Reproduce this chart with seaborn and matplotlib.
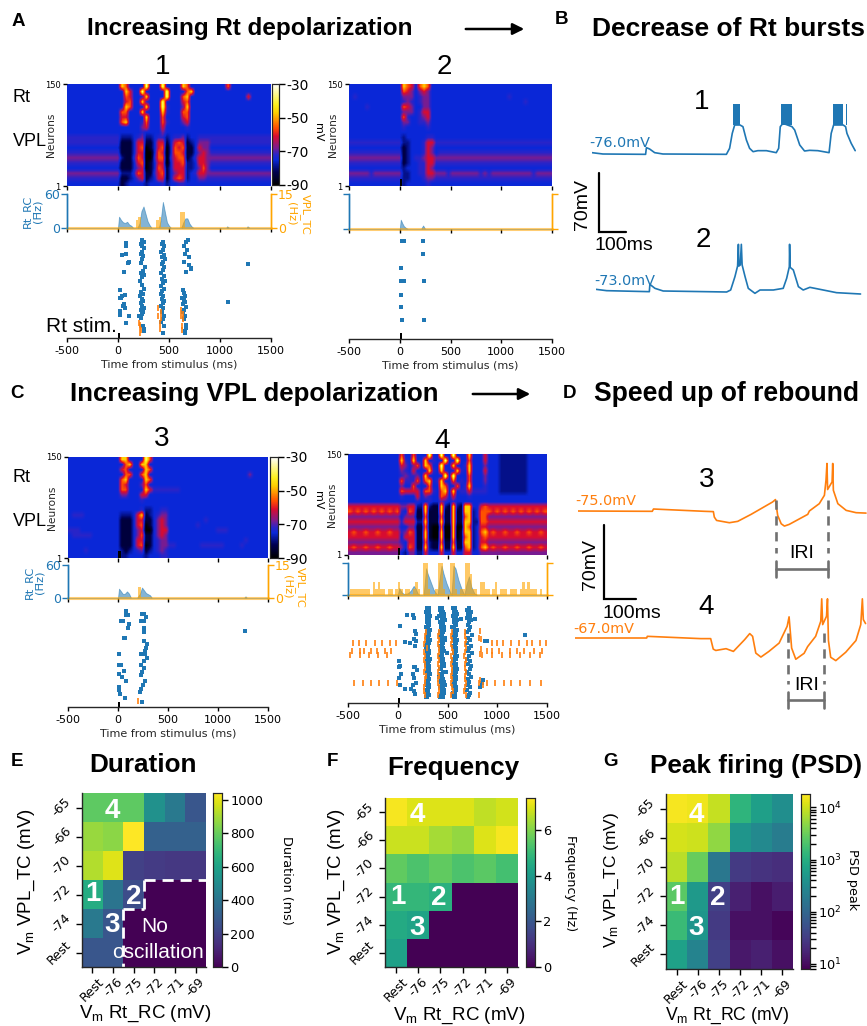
import numpy as np
import matplotlib
matplotlib.use('Agg')
import matplotlib.pyplot as plt
import seaborn as sns
from matplotlib.colors import LinearSegmentedColormap, LogNorm

W, H = 867, 1026
BLUE = '#1f77b4'
ORANGE = '#ff7f0e'
HIST_ORANGE = '#ffa500'

# neuron heatmaps: one digit per 40 ms bin, spaces only group the bursts
mv_levels = [-90, -84, -79, -75, -72, -68, -61, -56, -47, -36]

heat1 = [
    "3333333333333 873 33 39 333 93 333 873 3333333373333333333",
    "3333333333333 386 33 93 333 39 333 378 3333333333333333333",
    "3333333333333 376 33 48 333 39 333 783 3333333333333633333",
    "3333333333333 367 33 84 333 93 333 673 3333333333333333333",
    "3333333333333 387 33 38 333 94 333 583 3333333333333333333",
    "3333333333333 773 33 83 333 84 333 773 3333333333333333333",
    "3333333333333 663 33 38 333 73 333 673 3333333333333333333",
    "3333333333333 783 33 47 333 74 333 563 3333333333333333333",
    "3333333333333 333 33 56 333 63 333 343 3333333333333333333",
    "3333333333333 333 33 43 333 53 333 333 3333333333333333333",
    "4444444444444 222 3 45 22 3 44 2 3 445 23 3 444 444444444444444",
    "4444444444444 111 3 66 11 3 66 1 3 676 12 3 555 444444444444444",
    "3333333333333 111 3 67 01 3 67 0 3 767 11 3 655 333333333333333",
    "4444444444444 111 3 66 00 3 76 0 3 776 11 3 565 444444444444444",
    "5555555555555 211 4 76 00 4 77 0 4 677 12 4 665 555555555555555",
    "4444444444444 111 3 67 01 3 66 0 3 667 22 3 665 444444444444444",
    "3333333333333 111 3 56 01 3 76 1 3 666 22 3 575 333333333333333",
    "5555555555555 222 4 76 11 4 67 1 3 566 23 4 665 555555555555555",
    "4444444444444 112 3 56 12 3 66 1 3 676 23 3 554 444444444444444",
    "3333333333333 123 3 33 23 3 34 2 3 344 33 3 333 333333333333333",
]
heat2 = [
    "3333333333333 876 3 7873 33333333333333333333333333333",
    "3333333333333 765 3 5653 33333333333333333333333333333",
    "3433333333333 555 3 4553 33333333333333333343333333333",
    "3333333333333 454 3 4553 33333333333333333333334333333",
    "3333433333333 765 3 3553 33333333333333333333333333333",
    "3333333333333 555 3 4663 33333333333333333333333333333",
    "3333333333333 743 3 4563 33333333333333333333333333333",
    "3333333333333 553 3 4453 33333333333333333333333333333",
    "3333333333333 433 3 3343 33333333333333333333333333333",
    "3333333333333 333 3 3333 33333333333333333333333333333",
    "3333333333333 233 333 443 3333333333333333333333333333",
    "4444444444444 223 334 664 4444444444444444444444444444",
    "3333333333333 123 334 653 3333333333333333333333333333",
    "4444444444444 123 334 653 4444444444444444444444444444",
    "5555555555555 123 445 665 5555555555555555555555555555",
    "4444444444444 123 344 664 4444444444444444444444444444",
    "3333333333333 233 344 653 3333333333333333333333333333",
    "5555545555555 223 344 665 5545555555454555555555545555",
    "4444444444444 223 334 554 4444444444444444444444444444",
    "3333333333333 233 333 433 3333333333333333333333333333",
]
heat3 = [
    "3333333333333 883 33 397 33333333333333333333333333333",
    "3333333333333 378 33 883 33333333333333333333333333333",
    "3333333333333 673 33 387 33333333333333333333333333333",
    "3333333333333 377 33 783 33333333333333333333333353333",
    "3333333333333 783 33 387 33333333333333333333333333333",
    "3333333333333 763 33 573 33333333333333333333333333333",
    "3333333333333 773 33 386 44444443333333333333333333333",
    "3333333333333 553 33 663 33333333333333333333333333333",
    "3333333333333 333 33 433 33333333333333333333333333333",
    "3333333333333 333 33 333 33333333333333333333333333333",
    "3333333333333 333 3 34 22 3 344 3333333333333333333333333",
    "3444333333333 222 3 68 12 3 455 3333333333333333333333333",
    "3333333333333 111 3 66 11 3 565 3333333334333333333333333",
    "3333333333333 111 3 67 01 3 565 3333333433333333333333333",
    "4443333333333 111 3 56 00 3 566 3333333333334443333333333",
    "3444443333333 111 3 57 11 3 565 3333333333333333333333333",
    "3333333333333 111 3 66 11 3 455 3333333333333333333433333",
    "3333333333333 111 3 67 01 3 455 4433333344444433334333333",
    "3333433333333 212 3 45 12 3 454 3333333333333333333333333",
    "3333333333333 223 3 33 23 3 344 3333333333333333333333333",
]
heat4 = [
    "3333333333333 7 33 73 3 39 33 93 3 93 33 8 333 6 333 2222222 33333",
    "3333333333333 8 43 83 3 83 43 39 3 39 33 7 333 6 333 2222222 33333",
    "3333333333333 6 53 57 3 87 33 93 3 83 34 8 333 5 333 2222222 33333",
    "3333333333333 5 43 63 3 38 43 84 3 38 43 8 333 6 333 2222222 33333",
    "3333333333333 4 54 45 3 83 33 39 3 93 33 7 333 5 333 2222222 33333",
    "3333333333333 7 44 47 3 78 34 83 3 73 43 7 333 5 333 2222222 33333",
    "3333333333333 5 33 73 3 37 33 87 3 37 34 8 333 4 333 2222222 33333",
    "3333333333333 7 66 66 3 77 43 78 3 83 44 6 444 4 333 2222222 33333",
    "3333333333333 4 33 36 3 54 33 76 3 63 33 4 333 3 333 3333333 33333",
    "3333333333333 3 33 34 3 34 33 54 3 43 33 3 333 3 333 3333333 33333",
    "6666666666666 55 66 22 8 211 8 21 8 21 88 33 67 666666666666666",
    "7676767676767 43 76 11 8 111 8 11 8 11 88 23 77 767676767676767",
    "5555555555555 35 55 11 7 111 7 11 8 11 78 23 77 555555555555555",
    "6666666666666 46 66 22 8 111 8 11 8 11 88 22 77 666666666666666",
    "5555555555555 33 55 11 7 100 7 00 8 00 87 23 66 555555555555555",
    "6766766766766 45 76 11 8 100 8 00 8 01 88 23 78 676676676676676",
    "6666666666666 36 66 11 8 100 8 00 8 01 78 23 67 666666666666666",
    "5555555555555 43 66 11 7 211 7 11 7 11 88 23 66 555555555555555",
    "6766766766766 53 76 11 8 211 8 11 8 11 78 23 78 676676676676676",
    "5555555555555 32 55 22 6 333 6 33 6 33 66 33 55 555555555555555",
]

# firing rate histograms (Hz)
rt_rate1_t = [-500, 0, 10, 30, 50, 70, 90, 110, 130, 150, 190, 210, 230, 250, 270, 290, 310, 330, 400, 420, 440, 460, 480, 500, 520,
              620, 640, 660, 680, 700, 720, 740, 1060, 1070, 1090, 1260, 1270, 1290, 1500]
rt_rate1_v = [0, 0, 20, 14, 10, 9, 11, 6, 4, 0, 0, 8, 30, 38, 25, 12, 5, 0, 0, 15, 46, 28, 10, 4, 0,
              0, 10, 17, 17, 8, 3, 0, 0, 3, 0, 0, 3, 0, 0]
vpl_rate1_t = [175, 200, 375, 400, 610, 635]
vpl_rate1_v = [3.5, 5, 3.5, 5, 7, 7]
rt_rate2_t = [-500, 0, 10, 25, 40, 60, 80, 210, 230, 250, 1500]
rt_rate2_v = [0, 0, 16, 10, 5, 2, 0, 0, 6, 0, 0]
rt_rate3_t = [-500, 0, 10, 30, 50, 70, 90, 110, 130, 190, 220, 240, 260, 280, 300, 320, 340, 1260, 1275, 1290, 1500]
rt_rate3_v = [0, 0, 17, 12, 7, 8, 12, 8, 0, 0, 8, 19, 14, 9, 7, 5, 0, 0, 3, 0, 0]
vpl_rate3_t = [200]
vpl_rate3_v = [4.8]
rt_rate4_t = [-500, 0, 15, 40, 60, 100, 130, 160, 180, 200, 220, 260, 285, 300, 330, 360, 390, 400, 420, 440, 460, 490, 520, 540,
              560, 580, 610, 640, 670, 690, 715, 740, 770, 800, 1500]
rt_rate4_v = [0, 0, 13, 5, 2, 3, 8, 17, 12, 3, 0, 0, 50, 40, 25, 10, 2, 0, 30, 55, 40, 22, 8, 0,
              55, 50, 28, 12, 0, 20, 35, 15, 3, 0, 0]
vpl_rate4 = [0, 3, 3, 3, 3, 3, 3, 3, 3, 0, 6, 3, 6, 3, 3, 0, 3, 3, 0, 3,
             6, 3, 0, 3, 3, 0, 3, 6, 3, 0, 15, 15, 3, 0, 0, 3, 15, 15, 3, 0,
             0, 15, 15, 3, 0, 3, 3, 15, 15, 10, 3, 3, 0, 6, 6, 3, 3, 0, 3, 6,
             0, 3, 3, 3, 0, 3, 3, 3, 0, 3, 6, 3, 6, 3, 3, 3, 0, 3, 0, 0]

# rasters: spike time (ms) and neuron number
ras1_rt_t = [82, 82, 39, 82, 105, 95, 62, 16, 72, 16, 56, 72, 16, 105, 78, 30, 40, 52, 20,
             235, 250, 225, 240, 258, 232, 222, 248, 236, 228, 262, 244, 230, 256, 240, 220, 235, 250, 226, 242, 216, 232, 248, 222, 238, 254, 228, 244, 236, 210, 226, 242, 250, 258,
             445, 430, 455, 440, 425, 450, 435, 460, 442, 428, 452, 438, 422, 448, 434, 456, 442, 426, 450, 436, 420, 445, 430, 452, 438, 424, 446, 432, 455, 440, 426, 450, 442,
             690, 668, 650, 680, 660, 700, 645, 695, 715, 720, 670, 640, 650, 660, 632, 645, 655, 640, 662, 650, 635, 660, 645, 665, 670, 655, 660, 1275, 1075]
ras1_rt_n = [141, 136, 123, 125, 113, 111, 98, 71, 64, 59, 51, 44, 34, 33, 22, 59, 62, 48, 40,
             145, 142, 139, 136, 133, 128, 125, 122, 118, 112, 105, 100, 97, 93, 90, 84, 78, 73, 68, 65, 62, 58, 55, 52, 48, 45, 42, 38, 35, 33, 30, 18, 14, 10,
             143, 140, 136, 131, 127, 124, 120, 117, 113, 110, 106, 101, 97, 92, 88, 85, 81, 77, 73, 70, 66, 62, 58, 55, 52, 48, 44, 38, 33, 28, 24, 18, 8,
             145, 142, 136, 131, 125, 120, 113, 108, 104, 102, 98, 72, 67, 63, 60, 57, 54, 50, 46, 42, 38, 33, 28, 20, 15, 10, 7, 110, 54]
ras1_vpl_t = [205, 215, 215, 225, 220, 390, 395, 420, 425, 415, 410, 620, 615, 640, 635, 625, 630]
ras1_vpl_n = [23, 20, 16, 12, 8, 45, 33, 38, 30, 22, 14, 42, 32, 36, 28, 18, 12]
ras2_rt_t = [25, 40, 226, 233, 16, 16, 40, 30, 236, 13, 13, 20, 243]
ras2_rt_n = [141, 141, 141, 122, 103, 84, 84, 84, 84, 64, 46, 27, 27]
ras3_rt_t = [84, 77, 100, 33, 50, 110, 100, 57, 70, 7, 10, 30, 10, 57, 43, 84, 13, 10, 17, 67,
             244, 257, 284, 234, 257, 257, 257, 257, 294, 280, 274, 267, 294, 227, 260, 234, 257, 244, 230, 267, 250, 234, 224, 244, 1270]
ras3_rt_n = [143, 137, 136, 127, 127, 123, 117, 102, 102, 78, 63, 63, 49, 53, 44, 39, 30, 25, 20, 14,
             138, 138, 133, 128, 128, 118, 111, 98, 93, 88, 83, 78, 73, 78, 68, 63, 58, 52, 47, 38, 33, 27, 23, 8, 113]
ras3_vpl_t = [204]
ras3_vpl_n = [9]
ras4_rt_n = [145, 142, 139, 136, 133, 130, 127, 124, 120, 116, 112, 108, 104, 100, 96, 92, 88, 84, 80, 76,
             72, 68, 64, 60, 56, 52, 48, 44, 40, 36, 32, 28, 24, 20, 16, 12, 9]
ras4_rt_b1 = [295, 310, 285, 300, 320, 290, 305, 295, 315, 285, 300, 310, 290, 305, 320, 295, 285, 300, 310, 290,
              305, 320, 295, 285, 310, 300, 290, 320, 305, 295, 285, 310, 300, 290, 305, 295, 280]
ras4_rt_b1b = [310, 295, 300, 315, 295, 310, 290, 315, 300, 305, 320, 290, 310, 295, 300, 315, 305, 285, 295, 310,
               290, 300, 310, 305, 295, 315, 310, 300, 290, 310, 300, 295, 315, 305, 290, 310, 295]
ras4_rt_b2 = [420, 445, 430, 460, 415, 440, 470, 425, 450, 435, 465, 420, 445, 430, 475, 440, 425, 455, 435, 490,
              420, 450, 430, 465, 440, 425, 480, 445, 415, 455, 435, 470, 425, 440, 460, 430, 420]
ras4_rt_b2b = [440, 425, 450, 435, 445, 460, 440, 450, 430, 465, 440, 455, 425, 470, 435, 455, 445, 430, 465, 445,
               440, 430, 455, 440, 460, 435, 450, 425, 445, 430, 465, 440, 450, 460, 445, 440, 450]
ras4_rt_b3 = [560, 580, 570, 595, 555, 585, 565, 590, 575, 550, 600, 570, 585, 560, 595, 575, 555, 590, 565, 580,
              600, 570, 555, 585, 575, 595, 560, 580, 570, 590, 565, 555, 585, 575, 560, 570, 580]
ras4_rt_b3b = [575, 565, 590, 570, 580, 565, 595, 570, 585, 570, 580, 590, 565, 575, 570, 590, 575, 570, 585, 565,
               575, 590, 570, 565, 590, 570, 585, 570, 590, 565, 580, 575, 565, 590, 580, 555, 565]
ras4_rt_b4 = [720, 700, 735, 710, 725, 695, 740, 715, 705, 730, 720, 700, 745, 710, 725, 695, 735, 715, 705, 750,
              720, 700, 730, 710, 740, 725, 695, 715, 735, 705, 720, 710, 730, 700, 725, 715, 705]
ras4_sparse_t = [90, 150, 160, 20, 175, 180, 165, 185, 70, 120, 170, 10, 25, 15, 160, 175, 190, 150, 30, 15, 160, 180, 20, 150, 75, 130, 160, 170,
                 390, 640, 780, 1275, 845, 860, 830, 880, 900]
ras4_sparse_n = [135, 135, 130, 118, 110, 105, 98, 95, 93, 92, 88, 64, 57, 55, 55, 55, 50, 45, 45, 38, 38, 30, 28, 28, 22, 22, 18, 14,
                 130, 128, 128, 104, 30, 35, 25, 95, 95]
ras4_vpl_row_t = [-452, -392, -318, -224, -157, -80, -17, 948, 998, 1059, 1143, 1216, 1300, 1350, 1427, 1490,
                  -459, -382, -342, -268, -208, -124, -67, 898, 948, 1022, 1132, 1199, 1266, 1367, 1450,
                  -476, -375, -291, -201, -107, 848, 948, 1049, 1132, 1233, 1333, 1434,
                  -442, -352, -268, -184, -100, -7, 898, 982, 1065, 1139, 1233, 1333, 1440]
ras4_vpl_row_n = [92] * 16 + [80] * 15 + [73] * 12 + [30] * 13
ras4_vpl_burst_n = [108, 102, 96, 90, 84, 78, 72, 66, 60, 54, 48, 42, 36, 30, 24, 18, 12]
ras4_vpl_b1 = [280, 275, 270, 265, 290, 268, 272, 262, 276, 270, 264, 285, 270, 275, 262, 268, 272]
ras4_vpl_b2 = [410, 405, 415, 400, 412, 418, 405, 410, 402, 415, 408, 412, 405, 400, 418, 410, 406]
ras4_vpl_b3 = [545, 540, 550, 538, 545, 552, 540, 548, 535, 545, 550, 540, 548, 538, 545, 552, 540]
ras4_vpl_b4 = [680, 675, 690, 672, 685, 678, 670, 688, 680, 675, 690, 672, 680, 685, 678, 670, 682]
ras4_vpl_extra_t = [830, 820, 840, 835, 825, 830, 820, 860, 820]
ras4_vpl_extra_n = [110, 100, 98, 82, 75, 35, 30, 28, 12]

# membrane potential traces
trace1_t = [0, 41, 201, 204, 216, 235, 266, 504, 516, 526, 535, 555, 566, 579, 591, 604, 622, 654, 691, 700, 706, 716, 750, 760,
            779, 797, 816, 847, 889, 897, 906, 942, 951, 956, 972, 987]
trace1_v = [-74.4, -76, -76.4, -68.4, -70, -74.4, -76, -76.4, -69.2, -51.2, -41.2, -41.2, -43.2, -59.2, -69.2, -73.2, -72, -72, -74.4, -69.2, -43.2, -39.2, -43.2, -47.2,
            -65.2, -72.4, -71.6, -72, -74.4, -51.2, -41.2, -41.2, -43.2, -51.2, -63.2, -72]
burst1_start = [530, 710, 904, 951]
burst1_end = [555, 750, 942, 956]
burst1_low = -41
burst1_top = -16
trace2_t = [0, 40, 200, 202, 221, 252, 490, 505, 521, 531, 534, 536, 541, 545, 548, 559, 571, 596, 615, 665, 702, 715, 725, 726, 728, 740, 759, 777, 802, 852, 902, 992]
trace2_v = [-72.2, -73.8, -75, -66.2, -71, -74.2, -75.4, -73, -57, -44.2, -18.2, -44.2, -43, -18.2, -43, -57, -71, -77, -73, -73, -71, -59, -45, -18.2, -45.8, -49, -69, -73, -69.8, -73, -76.2, -77.8]
trace3_t = [0, 232, 236, 395, 423, 426, 433, 473, 499, 541, 608, 617, 624, 635, 645, 660, 718, 723, 754, 770, 775, 778, 780, 794, 796, 798, 812, 838, 869, 900]
trace3_v = [-75, -75.3, -73.1, -75.3, -75.6, -80.8, -84, -86.2, -84.9, -78.2, -66.4, -64.1, -79.2, -87.2, -89.4, -87.8, -78.2, -75, -68, -60, -45.6, -29.6, -54.5, -47.2, -29.6, -55.2, -68, -74.4, -76.6, -77]
trace4_t = [0, 224, 226, 393, 424, 432, 440, 472, 495, 530, 546, 555, 565, 581, 606, 638, 663, 669, 677, 690, 716, 727, 752, 768, 771, 774, 786, 789, 792, 799, 815, 846, 878, 893, 898, 901, 908]
trace4_v = [-67, -67, -65.4, -67.6, -67.6, -77.6, -78.9, -77.2, -79.8, -68.6, -62.8, -65.4, -81.4, -85.2, -79.8, -71.8, -55.8, -46.8, -76.6, -87.3, -81.6, -75.2, -65.4, -51, -29.6, -54.2, -46.2, -29.6, -69.4, -85.4, -88.6, -80.6, -69.4, -54.2, -29.6, -49.4, -53.2]

# parameter maps
rt_labels = ['Rest', '-76', '-75', '-72', '-71', '-69']
vpl_labels = ['-65', '-66', '-70', '-72', '-74', 'Rest']
duration = [[780, 780, 780, 520, 420, 280],
            [880, 860, 1040, 320, 320, 320],
            [920, 990, 200, 180, 170, 170],
            [640, 400, 240, 0, 0, 0],
            [420, 280, 0, 0, 0, 0],
            [280, 280, 0, 0, 0, 0]]
frequency = [[7.3, 7.0, 7.0, 7.0, 6.7, 6.9],
             [6.8, 6.8, 6.4, 6.2, 7.0, 7.3],
             [5.6, 5.3, 5.6, 5.3, 5.5, 5.2],
             [4.9, 4.9, 4.7, 0, 0, 0],
             [4.5, 4.3, 0, 0, 0, 0],
             [4.2, 0, 0, 0, 0, 0]]
psd_peak = [[16000, 15000, 9000, 1200, 600, 350],
            [11000, 10000, 5000, 450, 300, 200],
            [8000, 3000, 170, 30, 25, 22],
            [2500, 500, 35, 16, 11, 15],
            [1500, 450, 30, 11, 11, 9],
            [650, 250, 35, 13, 16, 11]]

sns.set_theme(style='ticks', rc={'axes.unicode_minus': False, 'mathtext.default': 'regular',
                                 'xtick.labelsize': 8, 'ytick.labelsize': 8,
                                 'xtick.major.size': 3, 'ytick.major.size': 3,
                                 'axes.linewidth': 1, 'xtick.color': 'black', 'ytick.color': 'black'})
plt.rcParams['font.family'] = ['DejaVu Sans']

membrane_cmap = LinearSegmentedColormap.from_list('membrane', [
    (0.0, '#000000'), (0.13, '#000050'), (0.25, '#0a28d8'), (0.30, '#2a24c8'), (0.367, '#7a1c90'),
    (0.483, '#d80c30'), (0.567, '#ff5000'), (0.717, '#ffd000'), (0.80, '#fff020'), (1.0, '#ffffff')])

fig = plt.figure(figsize=(W / 100, H / 100), dpi=100)


def add_ax(x0, y0, x1, y1):
    return fig.add_axes([x0 / W, 1 - y1 / H, (x1 - x0) / W, (y1 - y0) / H])


def decode(rows):
    clean = [r.replace(' ', '') for r in rows]
    return np.array([[mv_levels[int(c)] for c in r[:50].ljust(50, r[-1])] for r in clean])


def neuron_heat(rows, box, cbar_box=None, stim=True):
    ax = add_ax(*box)
    cax = add_ax(*cbar_box) if cbar_box else None
    cells = decode(rows)
    sns.heatmap(cells, cmap=membrane_cmap, vmin=-90, vmax=-30, ax=ax, cbar=cbar_box is not None, cbar_ax=cax,
                cbar_kws={'ticks': [-30, -50, -70, -90]} if cbar_box else None,
                xticklabels=False, yticklabels=False)
    # same cells, drawn smooth like the exported raster in the paper
    ax.collections[0].set_visible(False)
    ax.imshow(cells, cmap=membrane_cmap, vmin=-90, vmax=-30, aspect='auto', extent=(0, 50, 20, 0), interpolation='bilinear')
    ax.set_xlim(0, 50)
    ax.set_ylim(20, 0)
    ax.set_xticks([0, 12.5, 25, 37.5, 50])
    ax.set_xticklabels([])
    ax.set_yticks([0, 20])
    ax.set_yticklabels(['150', '1'], rotation=0, fontsize=6)
    ax.set_ylabel('Neurons', fontsize=7.7, labelpad=-8)
    ax.tick_params(length=3, width=1, pad=1.5)
    if stim:
        ax.bar(12.8, 1.4, width=0.7, bottom=18.6, color='black', linewidth=0)
    if cax:
        cax.tick_params(labelsize=10, length=4, width=1, pad=1.5)
        for s in cax.spines.values():
            s.set_visible(True)
            s.set_linewidth(0.8)
    return ax


def rate_hist(box, rt_t, rt_v, vpl_t, vpl_v, vpl_width=25, labels=True):
    ax = add_ax(*box)
    ax.fill_between(rt_t, rt_v, color=BLUE, alpha=0.55, linewidth=0.6, zorder=3)
    ax.set_xlim(-500, 1500)
    ax.set_ylim(0, 60)
    ax.set_yticks([0, 60])
    tw = ax.twinx()
    tw.bar(vpl_t, vpl_v, width=vpl_width, align='edge', color=HIST_ORANGE, alpha=0.6, linewidth=0, zorder=1)
    tw.plot([-500, 1500], [0, 0], color=HIST_ORANGE, alpha=0.55, lw=2.2, clip_on=False)
    tw.set_ylim(0, 15)
    tw.set_yticks([0, 15])
    ax.set_xticks([-500, 0, 500, 1000, 1500])
    ax.set_xticklabels([])
    ax.tick_params(axis='x', length=3, width=1)
    ax.tick_params(axis='y', colors=BLUE, labelsize=9, length=4, width=1, pad=1)
    tw.tick_params(axis='y', colors=HIST_ORANGE, labelsize=9, length=4, width=1, pad=1)
    if not labels:
        ax.set_yticklabels([])
        tw.set_yticklabels([])
    for a in (ax, tw):
        a.spines['top'].set_visible(False)
        a.spines['bottom'].set_visible(False)
        a.spines['left'].set_color(BLUE)
        a.spines['right'].set_color(HIST_ORANGE)
    return ax


def raster(box, rt_t, rt_n, vpl_t, vpl_n):
    ax = add_ax(*box)
    sns.scatterplot(x=rt_t, y=rt_n, color=BLUE, marker='s', s=5, linewidth=0, ax=ax)
    sns.scatterplot(x=vpl_t, y=vpl_n, color=ORANGE, marker='|', s=14, linewidth=1.2, ax=ax)
    ax.bar(12, 8, width=25, color='black', linewidth=0)
    ax.set_xlim(-500, 1500)
    ax.set_ylim(0, 150)
    ax.set_xticks([-500, 0, 500, 1000, 1500])
    ax.set_yticks([])
    ax.set_xlabel('Time from stimulus (ms)', fontsize=8, labelpad=3)
    ax.tick_params(axis='x', labelsize=8, length=3, width=1, pad=2.5)
    sns.despine(ax=ax, left=True)
    return ax


def trace(box, t, v, color, ms_per_px, mv_per_px, v_ref, y_ref):
    # axis limits follow the scale bars of the panel
    ax = add_ax(*box)
    ax.patch.set_alpha(0)
    sns.lineplot(x=t, y=v, color=color, linewidth=1.2, estimator=None, sort=False, ax=ax)
    ax.set_xlim(0, (box[2] - box[0]) * ms_per_px)
    ax.set_ylim(v_ref - (box[3] - y_ref) * mv_per_px, v_ref + (y_ref - box[1]) * mv_per_px)
    ax.axis('off')
    return ax


def param_map(data, box, cbar_box, **kw):
    ax = add_ax(*box)
    cax = add_ax(*cbar_box)
    sns.heatmap(np.array(data, dtype=float), cmap='viridis', ax=ax, cbar_ax=cax, xticklabels=rt_labels,
                yticklabels=vpl_labels, **kw)
    ax.tick_params(axis='both', labelsize=9.2, length=4, width=1, pad=2)
    ax.set_xticklabels(rt_labels, rotation=45, ha='center')
    ax.set_yticklabels(vpl_labels, rotation=45, va='center')
    ax.spines['left'].set_visible(True)
    ax.spines['bottom'].set_visible(True)
    cax.tick_params(labelsize=9.3, length=4, width=1, pad=2)
    for s in cax.spines.values():
        s.set_visible(True)
        s.set_linewidth(0.8)
    return ax


# panels A and C
neuron_heat(heat1, (67, 84, 271, 186), (272, 84, 279, 185), stim=False)
rate_hist((67, 194, 271, 228), rt_rate1_t, rt_rate1_v, vpl_rate1_t, vpl_rate1_v)
raster((67, 237, 271, 338), ras1_rt_t, ras1_rt_n, ras1_vpl_t, ras1_vpl_n)

neuron_heat(heat2, (349, 84, 552, 186))
rate_hist((349, 194, 552, 229), rt_rate2_t, rt_rate2_v, [], [], labels=False)
raster((349, 235, 552, 339), ras2_rt_t, ras2_rt_n, [], [])

neuron_heat(heat3, (68, 457, 268, 558), (270, 457, 278, 558))
rate_hist((68, 565, 268, 598), rt_rate3_t, rt_rate3_v, vpl_rate3_t, vpl_rate3_v)
raster((68, 606, 268, 707), ras3_rt_t, ras3_rt_n, ras3_vpl_t, ras3_vpl_n)

neuron_heat(heat4, (348, 454, 547, 555))
rate_hist((348, 563, 547, 595), rt_rate4_t, rt_rate4_v, list(np.linspace(-500, 1500, len(vpl_rate4) + 1)[:-1]), vpl_rate4, labels=False)
raster((348, 605, 547, 703),
       ras4_sparse_t + ras4_rt_b1 + ras4_rt_b1b + ras4_rt_b2 + ras4_rt_b2b + ras4_rt_b3 + ras4_rt_b3b + ras4_rt_b4,
       ras4_sparse_n + ras4_rt_n * 7,
       ras4_vpl_row_t + ras4_vpl_extra_t + ras4_vpl_b1 + ras4_vpl_b2 + ras4_vpl_b3 + ras4_vpl_b4,
       ras4_vpl_row_n + ras4_vpl_extra_n + ras4_vpl_burst_n * 4)

# panels B and D
ax_t1 = trace((592, 100, 862, 170), trace1_t, trace1_v, BLUE, 3.75, 1.2, -76, 154)
for b0, b1 in zip(burst1_start, burst1_end):
    ax_t1.fill_between([b0, b1], burst1_low, burst1_top, color=BLUE, linewidth=0)
trace((596, 240, 862, 300), trace2_t, trace2_v, BLUE, 3.75, 1.2, -73, 290)
trace((578, 460, 867, 540), trace3_t, trace3_v, ORANGE, 3.125, 0.955, -75, 511)
trace((575, 590, 867, 680), trace4_t, trace4_v, ORANGE, 3.125, 0.955, -67, 638)

# panels E, F, G
ax_e = param_map(duration, (82, 793, 206, 967), (213, 793, 222, 967), vmin=0, vmax=1040,
                 cbar_kws={'ticks': [0, 200, 400, 600, 800, 1000]})
for xs, ys in [([3, 6], [3, 3]), ([3, 3], [3, 4]), ([2, 3], [4, 4]), ([2, 2], [4, 6])]:
    ax_e.plot(xs, ys, color='white', lw=2, ls=(0, (4, 2.5)), clip_on=False)
param_map(frequency, (385, 798, 518, 967), (526, 798, 535, 967), vmin=0, vmax=7.4,
          cbar_kws={'ticks': [0, 2, 4, 6]})
param_map(psd_peak, (666, 794, 793, 969), (801, 794, 810, 969), norm=LogNorm(8, 18000))

# text and annotations in pixel positions
ov = fig.add_axes([0, 0, 1, 1], zorder=20)
ov.set_xlim(0, W)
ov.set_ylim(H, 0)
ov.axis('off')
ARIAL = 'Liberation Sans'


def label(x, y, s, size, weight='normal', color='black', family=ARIAL, **kw):
    kw.setdefault('ha', 'center')
    ov.text(x, y, s, fontsize=size, fontweight=weight, color=color, family=family, va='center', **kw)


for x, y, s in [(18, 21, 'A'), (562, 20, 'B'), (17, 393, 'C'), (570, 393, 'D'), (17, 762, 'E'), (332, 762, 'F'), (611, 762, 'G')]:
    label(x, y, s, 13.5, 'bold')

label(250, 29, 'Increasing Rt depolarization', 17.5, 'bold')
label(728, 29, 'Decrease of Rt bursts', 19, 'bold')
label(254, 394, 'Increasing VPL depolarization', 18.6, 'bold')
label(727, 394, 'Speed up of rebound', 19.1, 'bold')
label(143, 765, 'Duration', 18.8, 'bold')
label(453, 768, 'Frequency', 18.8, 'bold')
label(756, 766, 'Peak firing (PSD)', 18.8, 'bold')

for x0, x1, y in [(463, 527, 29), (470, 533, 394)]:
    ov.annotate('', xy=(x1, y), xytext=(x0, y), arrowprops=dict(arrowstyle='-|>', color='black', lw=1.8, mutation_scale=17))

for x, y, s in [(163, 67, '1'), (444, 67, '2'), (162, 439, '3'), (442, 441, '4'),
                (702, 102, '1'), (703, 240, '2'), (707, 480, '3'), (706, 607, '4')]:
    label(x, y, s, 20)

for x, y, s in [(22, 97, 'Rt'), (30, 141, 'VPL'), (22, 478, 'Rt'), (30, 522, 'VPL')]:
    label(x, y, s, 13)
label(81, 327, 'Rt stim.', 15)

for y, x, s in [(132, 318, 'mV'), (500, 318, 'mV')]:
    label(x, y, s, 8, family='DejaVu Sans', rotation=270)
for x, y in [(32, 211), (34, 582)]:
    label(x, y, 'Rt_RC\n(Hz)', 8.2, color=BLUE, family='DejaVu Sans', rotation=90, linespacing=1, multialignment='center')
for x_hz, x_name, y in [(292, 305, 214), (287, 300, 587)]:
    label(x_hz, y, '(Hz)', 8.2, color=HIST_ORANGE, family='DejaVu Sans', rotation=270)
    label(x_name, y, 'VPL_TC', 8.2, color=HIST_ORANGE, family='DejaVu Sans', rotation=270)

label(620, 143, '-76.0mV', 10.4, color=BLUE, family='DejaVu Sans')
label(625, 281, '-73.0mV', 10.4, color=BLUE, family='DejaVu Sans')
label(606, 501, '-75.0mV', 10.4, color=ORANGE, family='DejaVu Sans')
label(604, 629, '-67.0mV', 10.4, color=ORANGE, family='DejaVu Sans')

# scale bars and IRI brackets
ov.plot([599, 599, 626], [173, 232, 232], color='black', lw=1.6, solid_joinstyle='miter')
label(582, 204, '70mV', 14, rotation=90)
label(624, 245, '100ms', 14)
ov.plot([604, 604, 636], [525, 599, 599], color='black', lw=1.6, solid_joinstyle='miter')
label(591, 564, '70mV', 14, rotation=90)
label(632, 613, '100ms', 14)

GRAY = '#707070'
for x0, x1, y0, y1, by in [(776, 828, 500, 553, 569), (788, 824, 633, 684, 700)]:
    for x in (x0, x1):
        ov.plot([x, x], [y0, y1], color=GRAY, lw=1.9, ls=(0, (3.5, 2.5)))
        ov.plot([x, x], [by - 8, by + 8], color=GRAY, lw=1.9)
    ov.plot([x0, x1], [by, by], color=GRAY, lw=1.9)
label(802, 554, 'IRI', 14)
label(807, 685, 'IRI', 14)

# map labels and annotations
for x, y, s in [(112, 811, '4'), (93, 894, '1'), (134, 897, '2'), (112, 925, '3'),
                (417, 815, '4'), (398, 897, '1'), (439, 898, '2'), (417, 928, '3'),
                (696, 815, '4'), (677, 897, '1'), (718, 898, '2'), (696, 928, '3')]:
    label(x, y, s, 20, 'bold', color='white')
label(155, 926, 'No', 15, color='white')
label(158, 952, 'oscillation', 15, color='white')

for x, y, s in [(286, 880, 'Duration (ms)'), (570, 883, 'Frequency (Hz)'), (853, 880, 'PSD peak')]:
    label(x, y, s, 9.2, family='DejaVu Sans', rotation=270)

xlab = 'V$_{m}$ Rt_RC (mV)'
ylab = 'V$_{m}$ VPL_TC (mV)'
label(145, 1014, xlab, 13.5)
label(459, 1016, xlab, 13.5)
label(727, 1016, xlab, 12.7)
label(27, 882, ylab, 13.5, rotation=90)
label(337, 882, ylab, 13.5, rotation=90)
label(612, 880, ylab, 12.5, rotation=90)

fig.savefig('out.png', dpi=100)
